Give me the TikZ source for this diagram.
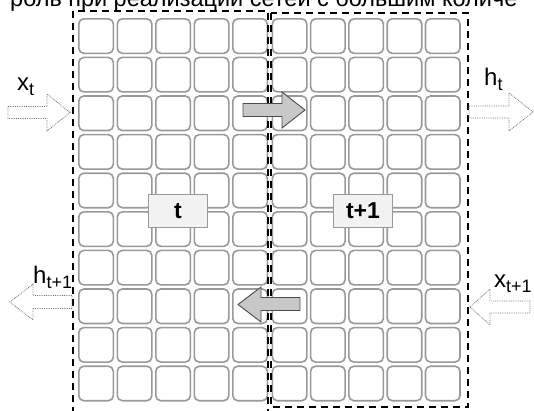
\documentclass[tikz,border=0pt]{standalone}
\usepackage{fontspec}
\setmainfont{Liberation Sans}
\usepackage{xcolor}
\usetikzlibrary{positioning}

\definecolor{cellgray}{HTML}{999999}
\definecolor{tagfill}{HTML}{F2F2F2}
\definecolor{arrowfill}{HTML}{C8C8C8}

\newcommand{\sublbl}[2]{#1\raisebox{-5pt}{\fontsize{18}{18}\selectfont #2}}

\begin{document}
\begin{tikzpicture}[x=1pt,y=-1pt,
  cell/.style={draw=cellgray,line width=1.6pt,rounded corners=5pt,minimum width=34.5pt,minimum height=34.5pt,inner sep=0pt,anchor=north west},
  block/.style={draw=black,line width=2.8pt,dash pattern=on 7pt off 5pt},
  tag/.style={draw=cellgray,line width=1.2pt,fill=tagfill,minimum width=59pt,minimum height=33pt,font=\fontsize{23}{23}\selectfont\bfseries},
  hollow/.style={draw=black!55,densely dotted,line width=0.8pt},
  fullarr/.style={draw=black!70,fill=arrowfill,line width=0.9pt},
  lbl/.style={anchor=base west,inner sep=0pt,font=\fontsize{24}{24}\selectfont}]
  \useasboundingbox (0,0) rectangle (534,410);
  \clip (0,0) rectangle (534,410);
  % cut-off line of the surrounding text
  \node[anchor=base west,inner sep=0pt,font=\fontsize{23.5}{23.5}\selectfont] (caption) at (10,6) {роль при реализации сетей с большим количе};
  % two grids of cells
  \foreach \r in {0,...,9}{
    \foreach \c in {0,...,4}{
      \node[cell] (L-\r-\c) at ({78+38.5*\c},{18+38.6*\r}) {};
      \node[cell] (R-\r-\c) at ({271.5+38.3*\c},{18+38.6*\r}) {};
    }
  }
  \node[tag] (tagT) at (178,211) {t};
  \node[tag] (tagT1) at (363,211) {t+1};
  % dashed frames
  \draw[block] (73,414) -- (73,11) -- (268,11) -- (268,414);
  \draw[block] (271,13) rectangle (468,407);
  % transfer arrows between the frames
  \draw[fullarr] (243,103.5) -- (282,103.5) -- (282,92) -- (305,110) -- (282,128) -- (282,116.5) -- (243,116.5) -- cycle;
  \draw[fullarr] (300,297.5) -- (261,297.5) -- (261,287) -- (238,304.5) -- (261,322) -- (261,310.5) -- (300,310.5) -- cycle;
  % inputs and outputs
  \draw[hollow] (8,106.5) -- (47,106.5) -- (47,94) -- (70,112.5) -- (47,131) -- (47,118.5) -- (8,118.5) -- cycle;
  \draw[hollow] (469,106) -- (509,106) -- (509,93) -- (533,112) -- (509,131) -- (509,118) -- (469,118) -- cycle;
  \draw[hollow] (72,295.5) -- (33,295.5) -- (33,284) -- (10,302) -- (33,320) -- (33,308.5) -- (72,308.5) -- cycle;
  \draw[hollow] (530,301) -- (490,301) -- (490,289) -- (470,307) -- (490,325) -- (490,313) -- (530,313) -- cycle;
  \node[lbl] (xt) at (17,90) {\sublbl{x}{t}};
  \node[lbl] (ht) at (484,85) {\sublbl{h}{t}};
  \node[lbl] (ht1) at (33,283) {\sublbl{h}{t+1}};
  \node[lbl] (xt1) at (494,287) {\sublbl{x}{t+1}};
\end{tikzpicture}
\end{document}
